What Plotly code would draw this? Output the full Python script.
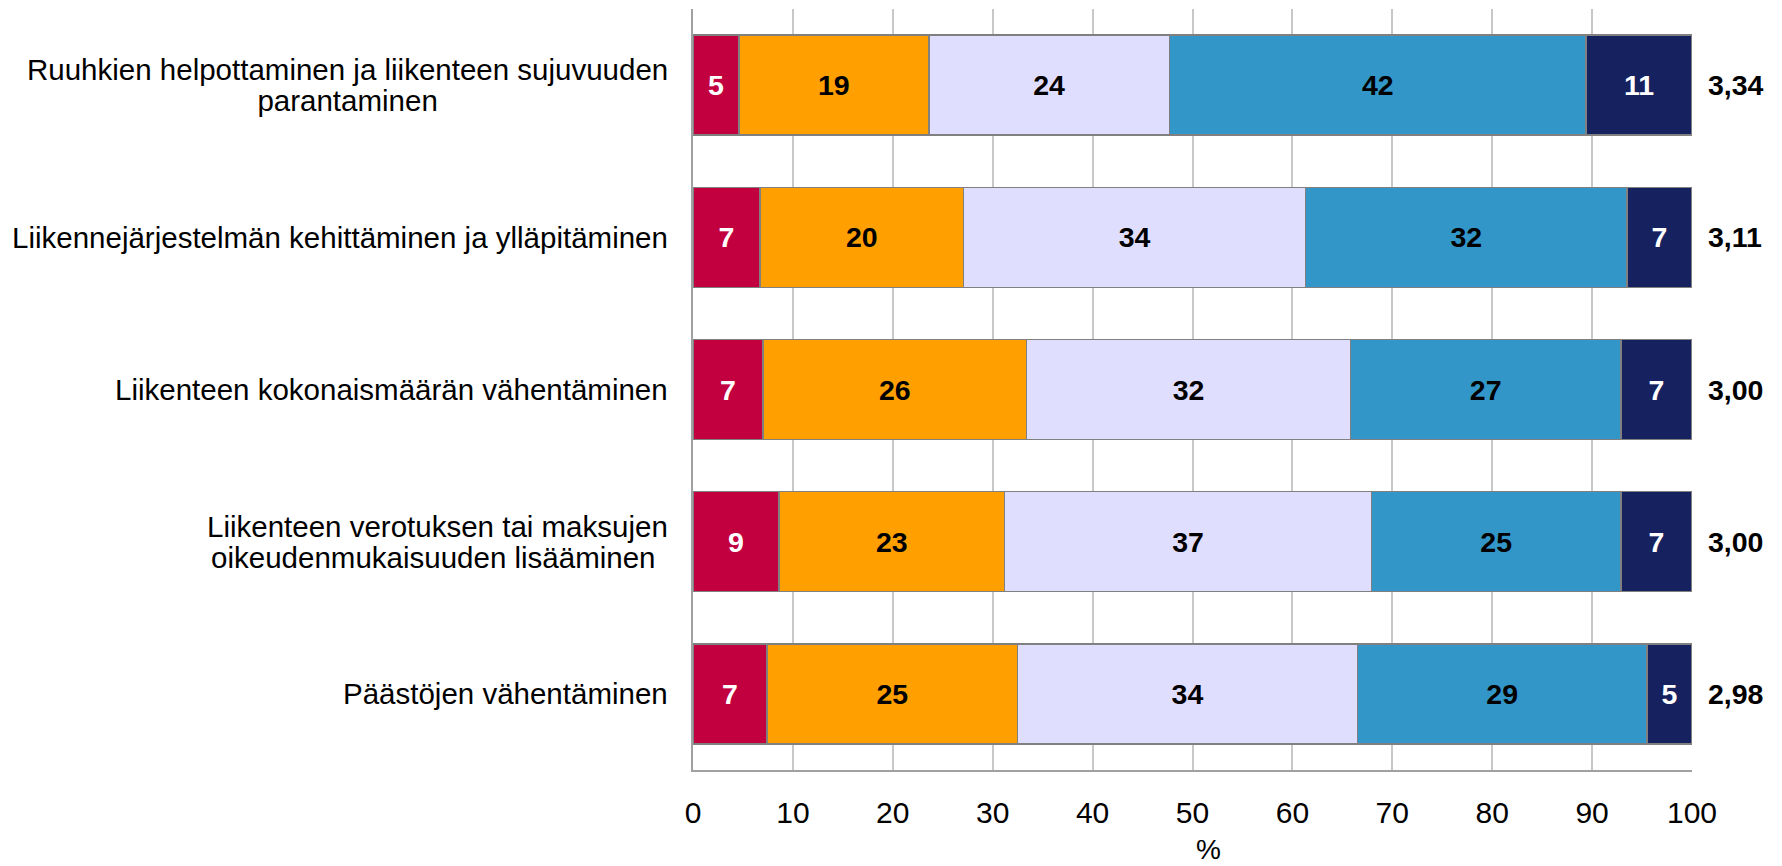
import plotly.graph_objects as go

# category labels, one list entry per printed line
categories = [
    ["Ruuhkien helpottaminen ja liikenteen sujuvuuden", "parantaminen"],
    ["Liikennejärjestelmän kehittäminen ja ylläpitäminen"],
    ["Liikenteen kokonaismäärän vähentäminen"],
    ["Liikenteen verotuksen tai maksujen", "oikeudenmukaisuuden lisääminen\u00a0"],
    ["Päästöjen vähentäminen"],
]
cat_ids = ["c1", "c2", "c3", "c4", "c5"]

series_colors = ["#C3003F", "#FFA000", "#E0DEFF", "#3396C8", "#16215F"]
text_colors = ["white", "black", "black", "black", "white"]

# segment widths (%)
values = [
    [4.6, 6.7, 7.0, 8.6, 7.4],
    [19.0, 20.4, 26.4, 22.6, 25.1],
    [24.1, 34.2, 32.4, 36.7, 34.0],
    [41.7, 32.2, 27.1, 25.0, 29.0],
    [10.6, 6.5, 7.1, 7.1, 4.5],
]
# printed labels
labels = [
    ["5", "7", "7", "9", "7"],
    ["19", "20", "26", "23", "25"],
    ["24", "34", "32", "37", "34"],
    ["42", "32", "27", "25", "29"],
    ["11", "7", "7", "7", "5"],
]
means = ["3,34", "3,11", "3,00", "3,00", "2,98"]
x_ticks = [0, 10, 20, 30, 40, 50, 60, 70, 80, 90, 100]
x_title = "%"

FONT = "Arial, Liberation Sans, Helvetica, sans-serif"
CAT_SIZE = 29.5
LINE_BASE = 24.2  # base size whose 1.3em line step equals the original line spacing

fig = go.Figure()
for i in range(5):
    fig.add_trace(go.Bar(
        y=cat_ids, x=values[i], orientation="h",
        marker=dict(color=series_colors[i], line=dict(color="#808080", width=1.5)),
        text=labels[i], textposition="inside", insidetextanchor="middle",
        textfont=dict(family=FONT, size=28.5, color=text_colors[i], weight="bold"),
        constraintext="none", showlegend=False, hoverinfo="skip",
    ))

for cid, lines, m in zip(cat_ids, categories, means):
    txt = "<br>".join(
        "<span style='font-size:{}px'>{}</span>".format(CAT_SIZE, ln) for ln in lines
    )
    fig.add_annotation(
        xref="paper", yref="y", x=0, y=cid, text=txt, showarrow=False,
        xanchor="right", yanchor="middle", align="center", xshift=-23,
        font=dict(family=FONT, size=LINE_BASE, color="black"),
    )
    fig.add_annotation(
        xref="paper", yref="y", x=1, y=cid, text=m, showarrow=False,
        xanchor="left", yanchor="middle", xshift=14,
        font=dict(family=FONT, size=28.5, color="black", weight="bold"),
    )

# x axis title, placed as in the original (slightly right of centre)
fig.add_annotation(
    xref="paper", yref="paper", x=0.516, y=0, text=x_title, showarrow=False,
    xanchor="center", yanchor="middle", yshift=-79,
    font=dict(family=FONT, size=28, color="black"),
)

fig.update_layout(
    barmode="stack", bargap=0.343,
    width=1782, height=866,
    margin=dict(l=693, r=90, t=9, b=96, autoexpand=False),
    plot_bgcolor="white", paper_bgcolor="white",
    font=dict(family=FONT, color="black"),
    xaxis=dict(
        range=[0, 100], tickvals=x_ticks, ticktext=[str(t) for t in x_ticks],
        showgrid=True, gridcolor="#C8C8C8", gridwidth=1.5,
        showline=True, linecolor="#A0A0A0", linewidth=2,
        zeroline=False,
        ticks="outside", ticklen=15, tickcolor="rgba(0,0,0,0)",
        tickfont=dict(family=FONT, size=30, color="black"),
        fixedrange=True,
    ),
    yaxis=dict(
        categoryorder="array", categoryarray=cat_ids, autorange="reversed",
        showticklabels=False, showgrid=False, zeroline=False,
        showline=True, linecolor="#A0A0A0", linewidth=2,
        ticks="", fixedrange=True,
    ),
)

fig.write_html(
    "out.html",
    config={"displayModeBar": False},
    post_script="document.body.style.margin='0';document.body.style.overflow='hidden';",
)
